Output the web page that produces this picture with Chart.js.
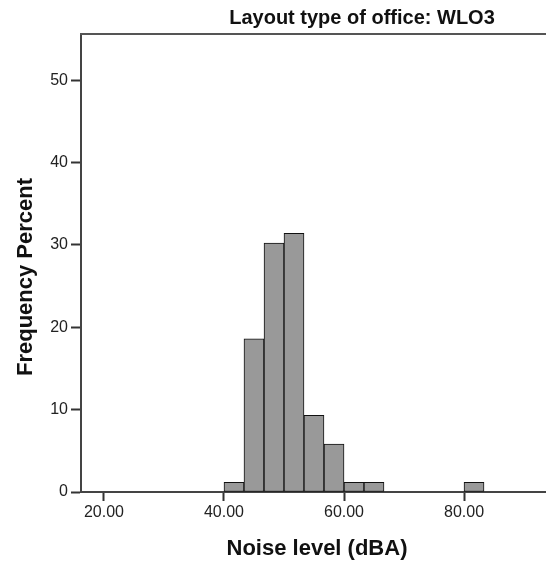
<!DOCTYPE html>
<html>
<head>
<meta charset="utf-8">
<title>Noise level histogram</title>
<script src="https://cdn.jsdelivr.net/npm/chart.js@4/dist/chart.umd.min.js"></script>
<style>
  html, body { margin: 0; padding: 0; background: #fff; overflow: hidden; }
  #wrap { width: 560px; height: 562px; }
</style>
</head>
<body>
<div id="wrap"><canvas id="hist" width="560" height="562"></canvas></div>
<script>
// histogram bins (dBA) and frequency percent per bin
const binStarts = [40, 43.33, 46.67, 50, 53.33, 56.67, 60, 63.33, 80];
const binWidth = 3.333;
const percents = [1.16, 18.60, 30.23, 31.40, 9.30, 5.81, 1.16, 1.16, 1.16];

const yTicks = [0, 10, 20, 30, 40, 50];
const xTicks = [20, 40, 60, 80];

const chartTitle = 'Layout type of office: WLO3';
const xTitle = 'Noise level (dBA)';
const yTitle = 'Frequency Percent';

const FONT = '"Liberation Sans", Arial, sans-serif';

// top frame line plus the three titles
const frameText = {
  id: 'frameText',
  afterDraw(chart) {
    const { ctx, chartArea: a } = chart;
    ctx.save();
    ctx.strokeStyle = '#555';
    ctx.lineWidth = 2;
    ctx.beginPath();
    ctx.moveTo(a.left - 1, a.top);
    ctx.lineTo(a.right + 10, a.top);
    ctx.stroke();

    ctx.fillStyle = '#111';
    ctx.textAlign = 'center';
    ctx.textBaseline = 'middle';
    ctx.font = 'bold 20px ' + FONT;
    ctx.fillText(chartTitle, 362, 18);

    ctx.font = 'bold 22px ' + FONT;
    ctx.fillText(xTitle, (a.left + a.right) / 2, 549);

    ctx.translate(26, 277);
    ctx.rotate(-Math.PI / 2);
    ctx.fillText(yTitle, 0, 0);
    ctx.restore();
  }
};

new Chart(document.getElementById('hist'), {
  type: 'bar',
  data: {
    datasets: [{
      data: binStarts.map((s, i) => ({ x: s + binWidth / 2, y: percents[i] })),
      backgroundColor: '#999999',
      borderColor: '#111',
      borderWidth: 1,
      borderSkipped: false,
      barPercentage: 1,
      categoryPercentage: 1
    }]
  },
  options: {
    responsive: false,
    animation: false,
    layout: { padding: { top: 34, right: 7, left: 0, bottom: 0 } },
    plugins: { legend: { display: false }, tooltip: { enabled: false } },
    scales: {
      x: {
        type: 'linear',
        offset: false,
        min: 16.17,
        max: 94.83,
        afterFit: s => { s.height = 70; },
        afterBuildTicks: s => { s.ticks = xTicks.map(v => ({ value: v })); },
        grid: { offset: false, drawOnChartArea: false, tickLength: 9, tickColor: '#333', tickWidth: 2 },
        border: { color: '#444', width: 2 },
        ticks: {
          padding: 2,
          color: '#222',
          font: { family: FONT, size: 16 },
          callback: v => v.toFixed(2)
        }
      },
      y: {
        min: 0,
        max: 55.6,
        afterFit: s => { s.width = 81; },
        afterBuildTicks: s => { s.ticks = yTicks.map(v => ({ value: v })); },
        grid: { drawOnChartArea: false, tickLength: 10, tickColor: '#333', tickWidth: 2 },
        border: { color: '#444', width: 2 },
        ticks: {
          padding: 3,
          color: '#222',
          font: { family: FONT, size: 16 }
        }
      }
    }
  },
  plugins: [frameText]
});
</script>
</body>
</html>
